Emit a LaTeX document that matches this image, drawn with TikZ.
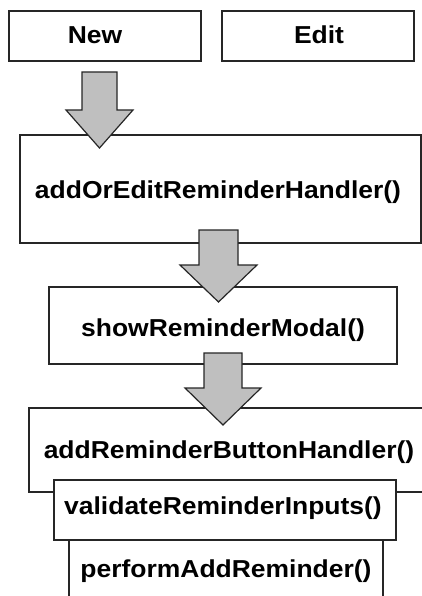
\documentclass[tikz,border=0pt]{standalone}
\usepackage{fontspec}
\newfontfamily\labfont{Liberation Sans}[FakeStretch=1.08]
\usetikzlibrary{calc}

\tikzset{
  funcbox/.style={draw=black!85, line width=1.2pt, fill=white},
  label text/.style={font=\labfont\bfseries\fontsize{24.5}{28}\selectfont, inner sep=0pt, anchor=base},
  blockarrow/.style={draw=black!85, line width=1.2pt, fill=black!25, line join=miter},
}

% block arrow pointing down from #1 to #2; shaft half-width #3, head half-width #4, head length #5
\newcommand\fatarrow[5]{%
  \draw[blockarrow] let \p1=(#1), \p2=(#2) in
    (\x1-#3,\y1) -- (\x1+#3,\y1) -- (\x1+#3,\y2+#5) -- (\x1+#4,\y2+#5)
    -- (\x2,\y2) -- (\x1-#4,\y2+#5) -- (\x1-#3,\y2+#5) -- cycle;}

\begin{document}
\begin{tikzpicture}[x=1pt, y=-1pt]
  \useasboundingbox (0,0) rectangle (422,596);
  \clip (0,0) rectangle (422,596);

  % trigger buttons
  \draw[funcbox] (9,11) rectangle (201,61);
  \node[label text] (new) at (95,44) {New};
  \draw[funcbox] (222,11) rectangle (414,61);
  \node[label text] (edit) at (319,44) {Edit};

  % handler chain
  \draw[funcbox] (20,135) rectangle (421,243);
  \node[label text] (handler) at (218,198) {addOrEditReminderHandler()};

  \draw[funcbox] (49,287) rectangle (397,364);
  \node[label text] (modal) at (223,336) {showReminderModal()};

  \draw[funcbox] (29,408) rectangle (440,492);
  \node[label text] (button) at (229,458) {addReminderButtonHandler()};

  \draw[funcbox] (54,480) rectangle (396,540);
  \node[label text] (validate) at (223,514) {validateReminderInputs()};

  \draw[funcbox] (69,540) rectangle (383,620);
  \node[label text] (perform) at (226,577) {performAddReminder()};

  % flow arrows
  \coordinate (a1s) at (99.5,72);   \coordinate (a1e) at (99.5,148);
  \coordinate (a2s) at (218.5,230); \coordinate (a2e) at (218.5,302);
  \coordinate (a3s) at (223,353);   \coordinate (a3e) at (223,425);
  \fatarrow{a1s}{a1e}{17.5pt}{33.5pt}{38pt}
  \fatarrow{a2s}{a2e}{19.5pt}{38.5pt}{37pt}
  \fatarrow{a3s}{a3e}{19pt}{38pt}{37pt}
\end{tikzpicture}
\end{document}
